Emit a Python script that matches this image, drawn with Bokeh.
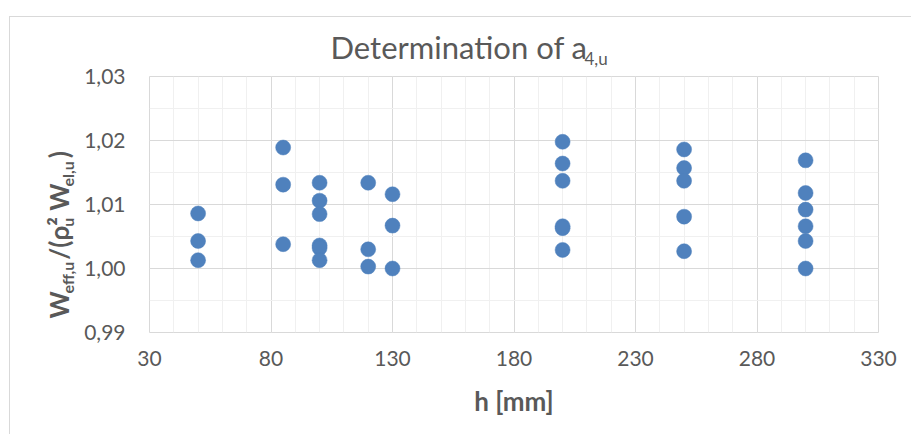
from bokeh.plotting import figure
from bokeh.models import (Range1d, FixedTicker, CustomJSTickFormatter, Label,
                          ColumnDataSource)
from bokeh.embed import file_html
from bokeh.resources import INLINE
import math

# ---- data ----
h_50 = [1.0086, 1.0043, 1.0013]
h_85 = [1.0189, 1.0131, 1.0038]
h_100 = [1.0134, 1.0106, 1.0085, 1.0036, 1.0032, 1.0013]
h_120 = [1.0134, 1.0030, 1.0003]
h_130 = [1.0116, 1.0067, 1.0000]
h_200 = [1.0198, 1.0164, 1.0137, 1.0066, 1.0063, 1.0029]
h_250 = [1.0186, 1.0157, 1.0137, 1.0081, 1.0027]
h_300 = [1.0169, 1.0118, 1.0092, 1.0066, 1.0043, 1.0000]
groups = {50: h_50, 85: h_85, 100: h_100, 120: h_120, 130: h_130,
          200: h_200, 250: h_250, 300: h_300}

x_ticks = [30, 80, 130, 180, 230, 280, 330]
x_minor = list(range(30, 331, 10))
y_ticks = [0.99, 1.00, 1.01, 1.02, 1.03]
y_minor = [round(0.99 + 0.005 * i, 3) for i in range(9)]
X0, X1, Y0, Y1 = 30, 330, 0.99, 1.03

xs, ys = [], []
for h, vals in groups.items():
    for v in vals:
        xs.append(h)
        ys.append(v)

FONT = "Lato"
GREY = "#595959"

OX, OY = 10, 17           # offset of the chart area in the page
W, H = 912 - OX, 435 - OY
# frame edges in page px
PL, PR, PT, PB = 149, 878, 76, 332
FL, FR, FT, FB = PL - OX, PR - OX, PT - OY, PB - OY  # in canvas px

p = figure(width=W, height=H, output_backend="svg", toolbar_location=None,
           x_range=Range1d(X0, X1), y_range=Range1d(Y0, Y1),
           min_border_left=FL, min_border_right=W - FR,
           min_border_top=FT, min_border_bottom=H - FB,
           margin=(OY - 1, 0, 0, OX - 1),
           styles={"border-left": "1px solid #d9d9d9",
                   "border-top": "1px solid #d9d9d9"})
p.background_fill_color = "white"
p.border_fill_color = "white"
p.outline_line_color = "#d9d9d9"
p.outline_line_width = 1

p.xaxis.ticker = FixedTicker(ticks=x_ticks, minor_ticks=x_minor)
p.yaxis.ticker = FixedTicker(ticks=y_ticks, minor_ticks=y_minor)
p.yaxis.formatter = CustomJSTickFormatter(code="return tick.toFixed(2).replace('.', ',');")

for ax in (p.xaxis, p.yaxis):
    ax.axis_line_color = None
    ax.major_tick_line_color = None
    ax.minor_tick_line_color = None
    ax.major_tick_out = 0
    ax.major_tick_in = 0
    ax.minor_tick_out = 0
    ax.minor_tick_in = 0
    ax.major_label_text_font = FONT
    ax.major_label_text_font_size = "21px"
    ax.major_label_text_color = GREY
p.yaxis.major_label_standoff = 24
p.xaxis.major_label_standoff = 18

p.xaxis.axis_label = "h [mm]"
p.xaxis.axis_label_text_font = FONT
p.xaxis.axis_label_text_font_style = "bold"
p.xaxis.axis_label_text_font_size = "26px"
p.xaxis.axis_label_text_color = GREY
p.xaxis.axis_label_standoff = 16

for g in (p.xgrid, p.ygrid):
    g.grid_line_color = "#d9d9d9"
    g.grid_line_width = 1
    g.minor_grid_line_color = "#f0f0f0"
    g.minor_grid_line_width = 1

src = ColumnDataSource(dict(x=xs, y=ys))
p.scatter("x", "y", source=src, size=15, fill_color="#4f81bd",
          line_color="#4f81bd", line_width=0.5)


def dx(X):
    return X0 + (X - PL) * (X1 - X0) / (PR - PL)


def dy(Y):
    return Y0 + (PB - Y) * (Y1 - Y0) / (PB - PT)


BASE = 0.45  # measured offset of the label anchor above the text baseline


def lab(text, X, Y, size, side, bold=False, rotated=False):
    """Text whose baseline starts at page px (X, Y); kept in a side panel
    so that it is not clipped to the plot frame."""
    if rotated:
        X = X - BASE * size
    else:
        Y = Y - BASE * size
    p.add_layout(Label(text=text, x=dx(X), y=dy(Y),
                       angle=math.pi / 2 if rotated else 0.0,
                       text_font=FONT, text_font_size=f"{size}px",
                       text_color=GREY,
                       text_font_style="bold" if bold else "normal",
                       text_align="left", text_baseline="alphabetic"), side)


NB = "\u00a0"
# title: Determination of a_{4,u}
lab("Determination of a", 330, 60, 31, "above")
lab("4,u", 584, 66, 17, "right")

# y axis title: W_{eff,u}/(ρ^2_u W_{el,u}) rotated
lab("W" + NB * 5 + "/(ρ²" + NB * 1 + "W" + NB * 4 + ")", 70, 318, 26, "left",
    bold=True, rotated=True)
lab("eff,u" + NB * 9 + "u" + NB * 8 + "el,u", 74, 293, 16, "left",
    bold=True, rotated=True)

open("out.html", "w").write(file_html(p, INLINE))
